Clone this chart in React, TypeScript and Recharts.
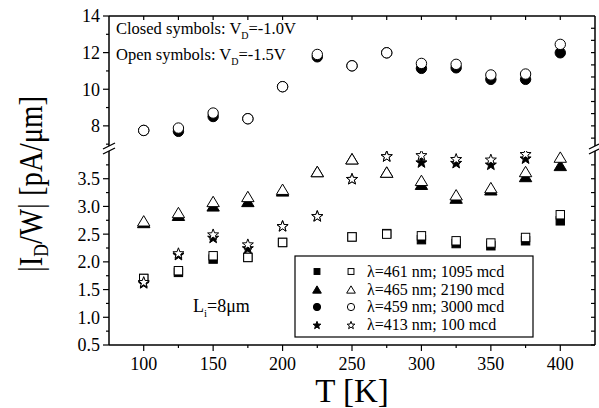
import { ScatterChart, Scatter, XAxis, YAxis } from 'recharts';

// Temperatures [K]
const temps = [100, 125, 150, 175, 200, 225, 250, 275, 300, 325, 350, 375, 400];

// |I_D/W| [pA/um], closed = V_D -1.0 V, open = V_D -1.5 V
const sq461Closed = [1.70, 1.81, 2.05, 2.08, 2.35, null, 2.45, 2.51, 2.40, 2.33, 2.29, 2.38, 2.74];
const sq461Open = [1.70, 1.84, 2.11, 2.08, 2.35, null, 2.45, 2.50, 2.47, 2.38, 2.34, 2.44, 2.85];
const tri465Closed = [2.71, 2.84, 3.01, 3.09, 3.28, 3.63, 3.86, 3.62, 3.40, 3.15, 3.30, 3.54, 3.74];
const tri465Open = [2.74, 2.89, 3.09, 3.18, 3.31, 3.63, 3.86, 3.62, 3.47, 3.21, 3.34, 3.63, 3.89];
const circ459Closed = [7.75, 7.70, 8.51, 8.39, 10.14, 11.77, 11.28, 11.99, 11.14, 11.17, 10.54, 10.54, 11.99];
const circ459Open = [7.75, 7.88, 8.70, 8.39, 10.14, 11.90, 11.28, 11.99, 11.41, 11.36, 10.78, 10.83, 12.45];
const star413Closed = [1.62, 2.13, 2.44, 2.25, 2.65, 2.83, 3.50, 3.91, 3.80, 3.79, 3.76, 3.87, null];
const star413Open = [1.64, 2.16, 2.50, 2.32, 2.65, 2.83, 3.50, 3.91, 3.93, 3.86, 3.85, 3.95, null];

const legendLabels = [
  'λ=461 nm; 1095 mcd',
  'λ=465 nm; 2190 mcd',
  'λ=459 nm; 3000 mcd',
  'λ=413 nm; 100 mcd',
];

const xTicks = [100, 125, 150, 175, 200, 225, 250, 275, 300, 325, 350, 375, 400];
const upperLeftTicks = [7, 8, 9, 10, 11, 12, 13, 14];
const upperRightTicks = [7.33, 8, 8.67, 9.33, 10, 10.67, 11.33, 12, 12.67, 13.33];
const lowerTicks = [0.5, 0.75, 1, 1.25, 1.5, 1.75, 2, 2.25, 2.5, 2.75, 3, 3.25, 3.5, 3.75];

const FONT = '"Liberation Serif", "Times New Roman", serif';
const txt = { fontFamily: FONT };
const axisLine = { stroke: '#000', strokeWidth: 1.5 };

type Kind = 'square' | 'triangle' | 'circle' | 'star';

const pts = (ys: (number | null)[]) =>
  temps.map((x, i) => ({ x, y: ys[i] })).filter((d) => d.y != null);

function Marker({ kind, cx, cy, filled, s = 1 }: { kind: Kind; cx: number; cy: number; filled: boolean; s?: number }) {
  const paint = { fill: filled ? '#000' : '#fff', stroke: '#000', strokeWidth: 1 };
  if (kind === 'circle') return <circle cx={cx} cy={cy} r={5.2 * s} {...paint} />;
  if (kind === 'square') {
    const h = 4.2 * s;
    return <rect x={cx - h} y={cy - h} width={2 * h} height={2 * h} {...paint} />;
  }
  if (kind === 'triangle') {
    const w = 6.2 * s;
    const h = 5.2 * s;
    return <path d={`M${cx},${cy - h}L${cx + w},${cy + h}L${cx - w},${cy + h}Z`} {...paint} />;
  }
  // star
  const ro = 5.8 * s;
  const ri = 2.4 * s;
  let d = '';
  for (let k = 0; k < 10; k++) {
    const r = k % 2 === 0 ? ro : ri;
    const a = -Math.PI / 2 + (k * Math.PI) / 5;
    d += `${k === 0 ? 'M' : 'L'}${cx + r * Math.cos(a)},${cy + r * Math.sin(a) + 0.6 * s}`;
  }
  return <path d={d + 'Z'} {...paint} />;
}

const shapeOf = (kind: Kind, filled: boolean) => (p: any) => (
  <Marker kind={kind} cx={p.cx} cy={p.cy} filled={filled} />
);

const isHalf = (v: number) => Math.abs(v * 2 - Math.round(v * 2)) < 1e-6;

const leftTick = (label: (v: number) => string | null) => (props: any) => {
  const { x, y, payload } = props;
  const lab = label(payload.value);
  const len = lab != null ? 6 : 3;
  return (
    <g>
      <line x1={x} x2={x - len} y1={y} y2={y} stroke="#000" strokeWidth={1.2} />
      {lab != null && (
        <text x={x - 9} y={y} dy="0.36em" textAnchor="end" fontSize={18} style={txt} fill="#000">
          {lab}
        </text>
      )}
    </g>
  );
};

const rightTick = (props: any) => {
  const { x, y } = props;
  return <line x1={x} x2={x - 4} y1={y} y2={y} stroke="#000" strokeWidth={1.2} />;
};

const topTick = (props: any) => {
  const { x, y } = props;
  return <line x1={x} x2={x} y1={y} y2={y + 4} stroke="#000" strokeWidth={1.2} />;
};

const bottomTick = (props: any) => {
  const { x, y, payload } = props;
  const major = payload.value % 50 === 0;
  return (
    <g>
      <line x1={x} x2={x} y1={y} y2={y + (major ? 6 : 3)} stroke="#000" strokeWidth={1.2} />
      {major && (
        <text x={x} y={y + 25} textAnchor="middle" fontSize={18} style={txt} fill="#000">
          {payload.value}
        </text>
      )}
    </g>
  );
};

const commonY = { type: 'number' as const, dataKey: 'y', interval: 0 as const, tickSize: 0, tickMargin: 0, tickLine: false, axisLine, allowDataOverflow: true };
const commonX = { type: 'number' as const, dataKey: 'x', domain: [75, 425], ticks: xTicks, interval: 0 as const, tickSize: 0, tickMargin: 0, tickLine: false, axisLine, allowDataOverflow: true };

const legendKinds: Kind[] = ['square', 'triangle', 'circle', 'star'];
const legendRowY = [271.5, 289.5, 307, 325];

export default function App() {
  return (
    <div style={{ position: 'absolute', left: 0, top: 0, width: 599, height: 408, background: '#fff', fontFamily: FONT }}>
      {/* upper panel: circles */}
      <div style={{ position: 'absolute', left: 0, top: 0 }}>
        <ScatterChart width={599} height={146} margin={{ top: 0, right: 0, bottom: 0, left: 0 }}>
          <XAxis {...commonX} orientation="top" height={16} tick={topTick} />
          <YAxis {...commonY} yAxisId="l" orientation="left" width={109} domain={[6.9, 14]} ticks={upperLeftTicks}
            tick={leftTick((v) => (v % 2 === 0 ? String(v) : null))} />
          <YAxis {...commonY} yAxisId="r" orientation="right" width={4} domain={[6.9, 14]} ticks={upperRightTicks} tick={rightTick} />
          <Scatter yAxisId="l" data={pts(circ459Closed)} shape={shapeOf('circle', true)} isAnimationActive={false} />
          <Scatter yAxisId="l" data={pts(circ459Open)} shape={shapeOf('circle', false)} isAnimationActive={false} />
        </ScatterChart>
      </div>

      {/* lower panel: squares, triangles, stars */}
      <div style={{ position: 'absolute', left: 0, top: 151 }}>
        <ScatterChart width={599} height={257} margin={{ top: 0, right: 0, bottom: 0, left: 0 }}>
          <XAxis {...commonX} orientation="bottom" height={63} tick={bottomTick} />
          <YAxis {...commonY} yAxisId="l" orientation="left" width={109} domain={[0.5, 4]} ticks={lowerTicks}
            tick={leftTick((v) => (isHalf(v) ? v.toFixed(1) : null))} />
          <YAxis {...commonY} yAxisId="r" orientation="right" width={4} domain={[0.5, 4]} ticks={lowerTicks} tick={rightTick} />
          <Scatter yAxisId="l" data={pts(sq461Closed)} shape={shapeOf('square', true)} isAnimationActive={false} />
          <Scatter yAxisId="l" data={pts(sq461Open)} shape={shapeOf('square', false)} isAnimationActive={false} />
          <Scatter yAxisId="l" data={pts(tri465Closed)} shape={shapeOf('triangle', true)} isAnimationActive={false} />
          <Scatter yAxisId="l" data={pts(tri465Open)} shape={shapeOf('triangle', false)} isAnimationActive={false} />
          <Scatter yAxisId="l" data={pts(star413Closed)} shape={shapeOf('star', true)} isAnimationActive={false} />
          <Scatter yAxisId="l" data={pts(star413Open)} shape={shapeOf('star', false)} isAnimationActive={false} />
        </ScatterChart>
      </div>

      {/* annotations, axis titles, break marks, legend */}
      <svg width={599} height={408} style={{ position: 'absolute', left: 0, top: 0, pointerEvents: 'none', fontFamily: FONT }}>
        <g stroke="#000" strokeWidth={1.3}>
          <line x1={103} y1={149} x2={115} y2={143} />
          <line x1={103} y1={154} x2={115} y2={148} />
          <line x1={589} y1={149} x2={599} y2={144} />
          <line x1={589} y1={154} x2={599} y2={149} />
        </g>

        <text x={116} y={33.5} fontSize={16.5} fill="#000" style={txt}>
          Closed symbols: V<tspan fontSize={10} dy={5}>D</tspan><tspan dy={-5}>=-1.0V</tspan>
        </text>
        <text x={116} y={59.5} fontSize={16.5} fill="#000" style={txt}>
          Open symbols: V<tspan fontSize={10} dy={5}>D</tspan><tspan dy={-5}>=-1.5V</tspan>
        </text>

        <text x={193} y={311.5} fontSize={18} fill="#000" style={txt}>
          L<tspan fontSize={11} dy={5}>i</tspan><tspan dy={-5}>=8μm</tspan>
        </text>

        <text x={352} y={401.5} fontSize={33} textAnchor="middle" fill="#000" style={txt}>T [K]</text>
        <text transform="translate(42,184) rotate(-90)" fontSize={33} textAnchor="middle" fill="#000" style={txt}
          textLength={176} lengthAdjust="spacingAndGlyphs">
          |I<tspan fontSize={20} dy={6}>D</tspan><tspan dy={-6}>/W| [pA/μm]</tspan>
        </text>

        <rect x={295} y={256} width={238} height={81} fill="#fff" stroke="#000" strokeWidth={1.2} />
        {legendKinds.map((k, i) => (
          <g key={k}>
            <Marker kind={k} cx={317} cy={legendRowY[i]} filled s={0.7} />
            <Marker kind={k} cx={351} cy={legendRowY[i]} filled={false} s={0.7} />
            <text x={367} y={legendRowY[i] + 5} fontSize={16} fill="#000" style={txt}>{legendLabels[i]}</text>
          </g>
        ))}
      </svg>
    </div>
  );
}
